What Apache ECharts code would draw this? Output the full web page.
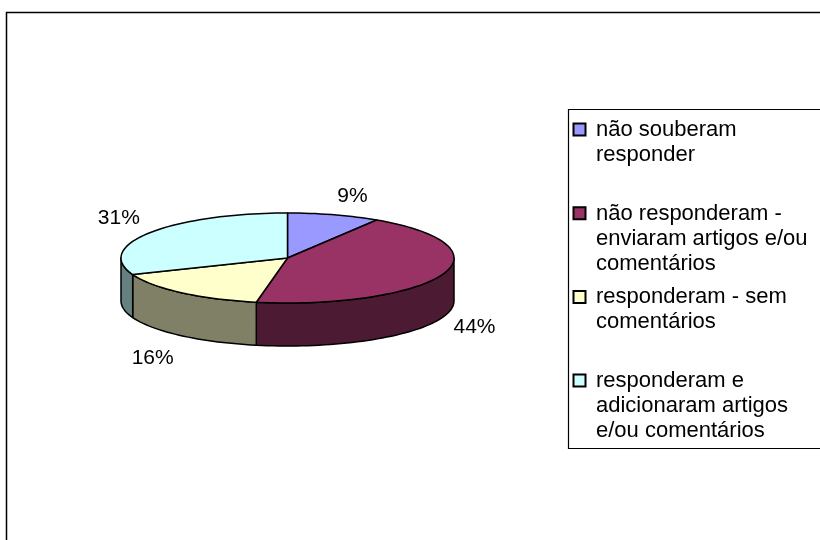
<!DOCTYPE html>
<html>
<head>
<meta charset="utf-8">
<script src="https://cdn.jsdelivr.net/npm/echarts@6/dist/echarts.min.js"></script>
<style>html,body{margin:0;padding:0;background:#fff;}#c{width:820px;height:540px;}</style>
</head>
<body>
<div id="c"></div>
<script>
// ---- data ----
const categories = [
  'não souberam\nresponder',
  'não responderam -\nenviaram artigos e/ou\ncomentários',
  'responderam - sem\ncomentários',
  'responderam e\nadicionaram artigos\ne/ou comentários'
];
const values = [9, 44, 16, 31];

// ---- styles ----
const topColors = ['#9999FF', '#993366', '#FFFFCC', '#CCFFFF'];
const sideColors = ['#4D4D80', '#4D1A33', '#808066', '#668080'];
const LABEL_FONT = '21px "Liberation Sans", Arial, sans-serif';
const LEGEND_FONT = '22px "Liberation Sans", Arial, sans-serif';

// ---- geometry (layout) ----
const CX = 287.5, CY = 258, RX = 166.5, RY = 45, DEPTH = 43;
const total = values.reduce((a, b) => a + b, 0);

function pt(thetaDeg, dy) {
  const t = thetaDeg * Math.PI / 180;
  return [CX + RX * Math.cos(t), CY - RY * Math.sin(t) + (dy || 0)];
}
function arc(a, b, dy) {
  const pts = [];
  const n = Math.max(2, Math.ceil(Math.abs(b - a) / 2));
  for (let k = 0; k <= n; k++) pts.push(pt(a + (b - a) * k / n, dy));
  return pts;
}

const chart = echarts.init(document.getElementById('c'), null, {renderer: 'canvas'});

function renderItem(params, api) {
  const i = params.dataIndex;
  const v = api.value(0);
  let before = 0;
  for (let k = 0; k < i; k++) before += values[k];
  const thS = 90 - 360 * before / total;
  const thE = 90 - 360 * (before + v) / total;
  const children = [];

  const a = Math.min(thS, 0), b = Math.max(thE, -180);
  if (a > b) {
    children.push({
      type: 'polygon', z2: 1,
      shape: {points: arc(a, b, 0).concat(arc(b, a, DEPTH))},
      style: {fill: sideColors[i], stroke: '#000', lineWidth: 1.5, lineJoin: 'round'}
    });
  }
  children.push({
    type: 'polygon', z2: 10,
    shape: {points: [[CX, CY]].concat(arc(thS, thE, 0))},
    style: {fill: topColors[i], stroke: '#000', lineWidth: 1.5, lineJoin: 'round'}
  });
  const mid = (thS + thE) / 2;
  const mr = mid * Math.PI / 180;
  const c = Math.cos(mr), s = Math.sin(mr);
  const P = pt(mid, s < 0 ? DEPTH : 0);
  const ax = P[0] + 12 * c;
  const ay = P[1] - 12 * s + (s >= 0 ? 3 : (c > 0 ? -5 : 3));
  children.push({
    type: 'text', z2: 20,
    style: {
      text: Math.round(v / total * 100) + '%',
      x: ax, y: ay,
      font: LABEL_FONT, fill: '#000',
      align: c >= 0 ? 'left' : 'right',
      verticalAlign: s >= 0 ? 'bottom' : 'top'
    }
  });
  return {type: 'group', children: children};
}

const legendGraphics = [];
const LX = 573, LY0 = 130, SLOT = 83.7, LINE_H = 25;
categories.forEach((name, i) => {
  const y = LY0 + i * SLOT;
  legendGraphics.push({
    type: 'rect', shape: {x: LX + 0.5, y: y - 6.5, width: 12, height: 12},
    style: {fill: topColors[i], stroke: '#000', lineWidth: 2}, z: 10
  });
  legendGraphics.push({
    type: 'text', x: 596, y: y - LINE_H / 2,
    style: {text: name, font: LEGEND_FONT, fill: '#000', lineHeight: LINE_H, verticalAlign: 'top'}, z: 10
  });
});

const option = {
  backgroundColor: '#fff',
  animation: false,
  graphic: [
    {type: 'rect', shape: {x: 6.5, y: 12.5, width: 830, height: 540},
     style: {fill: 'none', stroke: '#000', lineWidth: 1.5}, z: 5},
    {type: 'rect', shape: {x: 568.5, y: 109.5, width: 270, height: 339},
     style: {fill: '#fff', stroke: '#000', lineWidth: 1.2}, z: 6}
  ].concat(legendGraphics),
  series: [{
    type: 'custom',
    coordinateSystem: 'none',
    renderItem: renderItem,
    data: values.map((v, i) => ({name: categories[i], value: [v]})),
    silent: true
  }]
};
chart.setOption(option);
</script>
</body>
</html>
